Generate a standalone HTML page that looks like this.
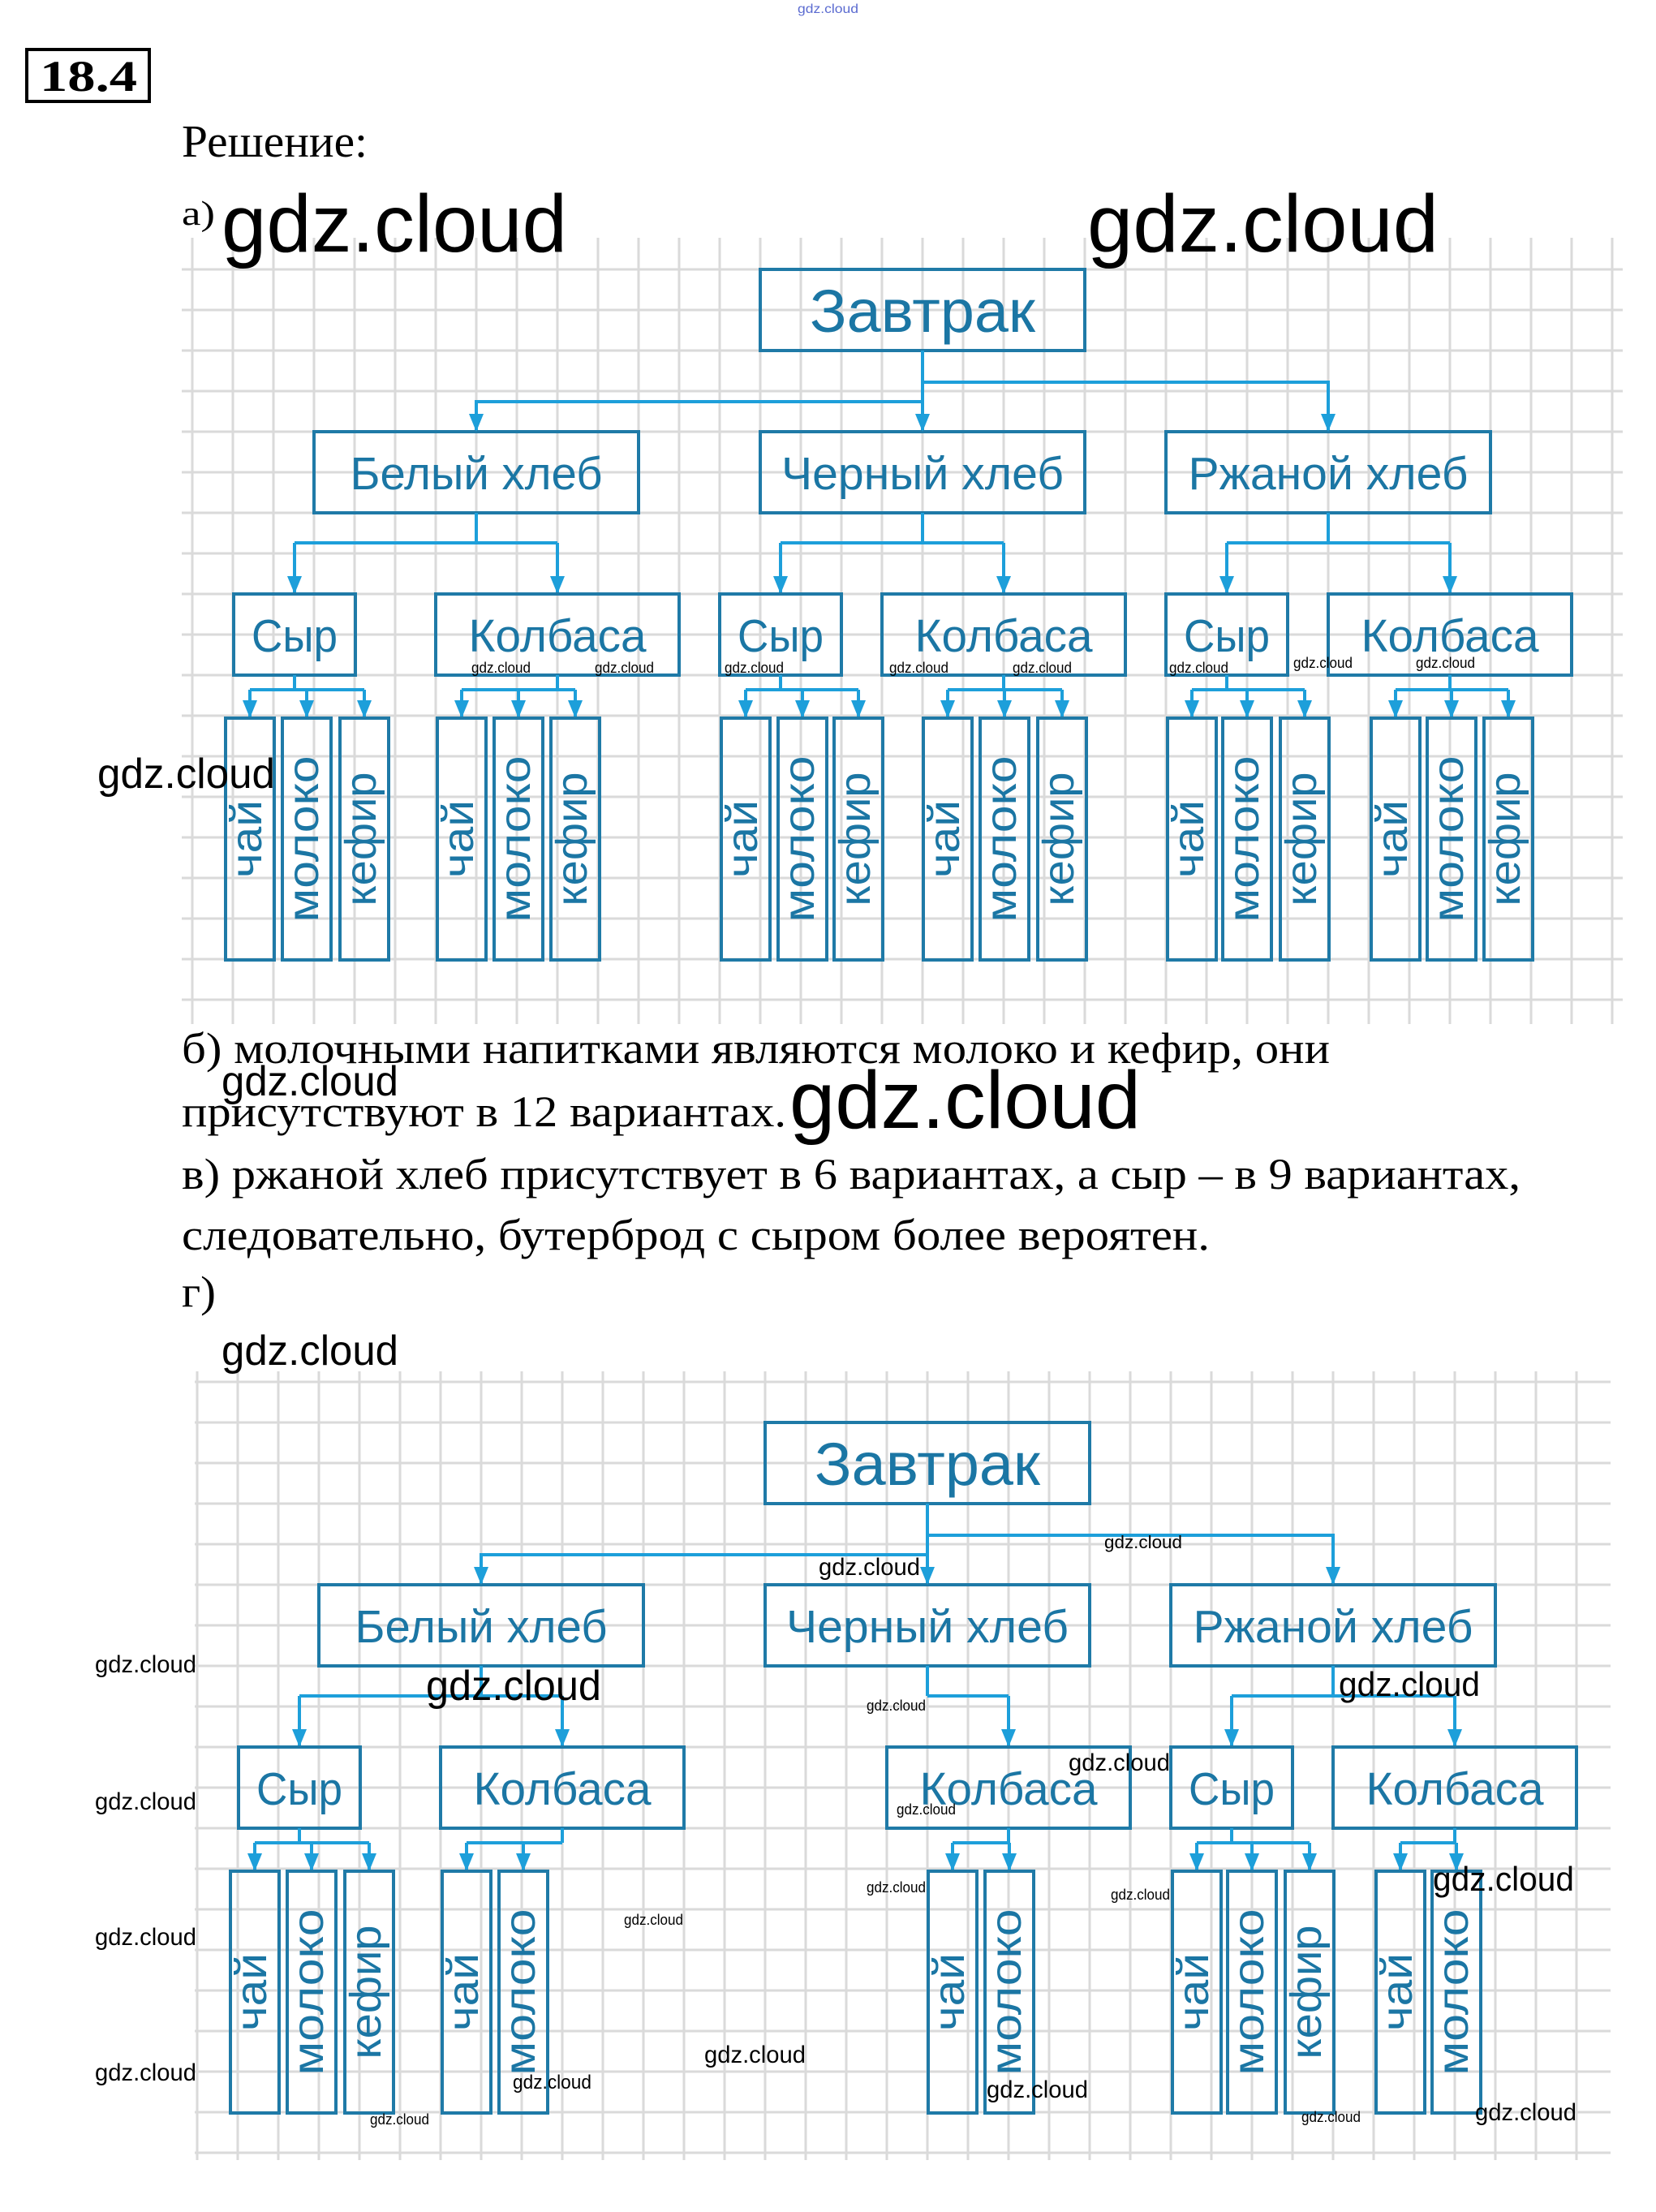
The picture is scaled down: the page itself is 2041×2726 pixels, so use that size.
<!DOCTYPE html>
<html><head><meta charset="utf-8"><style>
html,body{margin:0;padding:0;background:#fff;}
svg{display:block;}
.s{font-family:"Liberation Serif",serif;fill:#000;}
.w{font-family:"Liberation Sans",sans-serif;fill:#000;}
.b{font-family:"Liberation Sans",sans-serif;fill:#1b76a4;}
</style></head><body>
<svg id="sv" width="2041" height="2726" viewBox="0 0 2041 2726" xmlns="http://www.w3.org/2000/svg">
<g id="grid"></g>
<g id="shapes"></g>

<!-- header -->
<rect x="33" y="61" width="151" height="64" fill="none" stroke="#000" stroke-width="4"/>
<text class="s" x="49" y="112" font-size="54" font-weight="bold" textLength="120" lengthAdjust="spacingAndGlyphs">18.4</text>
<text class="s" x="224" y="193" font-size="56" textLength="229" lengthAdjust="spacingAndGlyphs">Решение:</text>
<text class="s" x="224" y="277" font-size="42" textLength="41" lengthAdjust="spacingAndGlyphs">а)</text>

<!-- part a labels -->
<g id="la">
<text class="b" x="1137" y="409" font-size="74" text-anchor="middle" textLength="278" lengthAdjust="spacingAndGlyphs">Завтрак</text>
<text class="b" x="587" y="603" font-size="57" text-anchor="middle" textLength="311" lengthAdjust="spacingAndGlyphs">Белый хлеб</text>
<text class="b" x="1137" y="603" font-size="57" text-anchor="middle" textLength="348" lengthAdjust="spacingAndGlyphs">Черный хлеб</text>
<text class="b" x="1637" y="603" font-size="57" text-anchor="middle" textLength="345" lengthAdjust="spacingAndGlyphs">Ржаной хлеб</text>
<text class="b" x="363" y="803" font-size="57" text-anchor="middle" textLength="106" lengthAdjust="spacingAndGlyphs">Сыр</text>
<text class="b" x="687" y="803" font-size="57" text-anchor="middle" textLength="219" lengthAdjust="spacingAndGlyphs">Колбаса</text>
<text class="b" x="962" y="803" font-size="57" text-anchor="middle" textLength="106" lengthAdjust="spacingAndGlyphs">Сыр</text>
<text class="b" x="1237" y="803" font-size="57" text-anchor="middle" textLength="219" lengthAdjust="spacingAndGlyphs">Колбаса</text>
<text class="b" x="1512" y="803" font-size="57" text-anchor="middle" textLength="106" lengthAdjust="spacingAndGlyphs">Сыр</text>
<text class="b" x="1787" y="803" font-size="57" text-anchor="middle" textLength="219" lengthAdjust="spacingAndGlyphs">Колбаса</text>

<text class="b" transform="translate(308,1034) rotate(-90)" y="14" font-size="54" text-anchor="middle" textLength="96" lengthAdjust="spacingAndGlyphs">чай</text>
<text class="b" transform="translate(378,1034) rotate(-90)" y="14" font-size="54" text-anchor="middle" textLength="205" lengthAdjust="spacingAndGlyphs">молоко</text>
<text class="b" transform="translate(449,1034) rotate(-90)" y="14" font-size="54" text-anchor="middle" textLength="165" lengthAdjust="spacingAndGlyphs">кефир</text>
<text class="b" transform="translate(569,1034) rotate(-90)" y="14" font-size="54" text-anchor="middle" textLength="96" lengthAdjust="spacingAndGlyphs">чай</text>
<text class="b" transform="translate(639,1034) rotate(-90)" y="14" font-size="54" text-anchor="middle" textLength="205" lengthAdjust="spacingAndGlyphs">молоко</text>
<text class="b" transform="translate(709,1034) rotate(-90)" y="14" font-size="54" text-anchor="middle" textLength="165" lengthAdjust="spacingAndGlyphs">кефир</text>
<text class="b" transform="translate(919,1034) rotate(-90)" y="14" font-size="54" text-anchor="middle" textLength="96" lengthAdjust="spacingAndGlyphs">чай</text>
<text class="b" transform="translate(989,1034) rotate(-90)" y="14" font-size="54" text-anchor="middle" textLength="205" lengthAdjust="spacingAndGlyphs">молоко</text>
<text class="b" transform="translate(1058,1034) rotate(-90)" y="14" font-size="54" text-anchor="middle" textLength="165" lengthAdjust="spacingAndGlyphs">кефир</text>
<text class="b" transform="translate(1168,1034) rotate(-90)" y="14" font-size="54" text-anchor="middle" textLength="96" lengthAdjust="spacingAndGlyphs">чай</text>
<text class="b" transform="translate(1238,1034) rotate(-90)" y="14" font-size="54" text-anchor="middle" textLength="205" lengthAdjust="spacingAndGlyphs">молоко</text>
<text class="b" transform="translate(1309,1034) rotate(-90)" y="14" font-size="54" text-anchor="middle" textLength="165" lengthAdjust="spacingAndGlyphs">кефир</text>
<text class="b" transform="translate(1469,1034) rotate(-90)" y="14" font-size="54" text-anchor="middle" textLength="96" lengthAdjust="spacingAndGlyphs">чай</text>
<text class="b" transform="translate(1537,1034) rotate(-90)" y="14" font-size="54" text-anchor="middle" textLength="205" lengthAdjust="spacingAndGlyphs">молоко</text>
<text class="b" transform="translate(1608,1034) rotate(-90)" y="14" font-size="54" text-anchor="middle" textLength="165" lengthAdjust="spacingAndGlyphs">кефир</text>
<text class="b" transform="translate(1720,1034) rotate(-90)" y="14" font-size="54" text-anchor="middle" textLength="96" lengthAdjust="spacingAndGlyphs">чай</text>
<text class="b" transform="translate(1789,1034) rotate(-90)" y="14" font-size="54" text-anchor="middle" textLength="205" lengthAdjust="spacingAndGlyphs">молоко</text>
<text class="b" transform="translate(1859,1034) rotate(-90)" y="14" font-size="54" text-anchor="middle" textLength="165" lengthAdjust="spacingAndGlyphs">кефир</text>
</g>

<!-- part g labels (offset +6,+1421) -->
<g transform="translate(6,1421)">
<text class="b" x="1137" y="409" font-size="74" text-anchor="middle" textLength="278" lengthAdjust="spacingAndGlyphs">Завтрак</text>
<text class="b" x="587" y="603" font-size="57" text-anchor="middle" textLength="311" lengthAdjust="spacingAndGlyphs">Белый хлеб</text>
<text class="b" x="1137" y="603" font-size="57" text-anchor="middle" textLength="348" lengthAdjust="spacingAndGlyphs">Черный хлеб</text>
<text class="b" x="1637" y="603" font-size="57" text-anchor="middle" textLength="345" lengthAdjust="spacingAndGlyphs">Ржаной хлеб</text>
<text class="b" x="363" y="803" font-size="57" text-anchor="middle" textLength="106" lengthAdjust="spacingAndGlyphs">Сыр</text>
<text class="b" x="687" y="803" font-size="57" text-anchor="middle" textLength="219" lengthAdjust="spacingAndGlyphs">Колбаса</text>
<text class="b" x="1237" y="803" font-size="57" text-anchor="middle" textLength="219" lengthAdjust="spacingAndGlyphs">Колбаса</text>
<text class="b" x="1512" y="803" font-size="57" text-anchor="middle" textLength="106" lengthAdjust="spacingAndGlyphs">Сыр</text>
<text class="b" x="1787" y="803" font-size="57" text-anchor="middle" textLength="219" lengthAdjust="spacingAndGlyphs">Колбаса</text>

<text class="b" transform="translate(308,1034) rotate(-90)" y="14" font-size="54" text-anchor="middle" textLength="96" lengthAdjust="spacingAndGlyphs">чай</text>
<text class="b" transform="translate(378,1034) rotate(-90)" y="14" font-size="54" text-anchor="middle" textLength="205" lengthAdjust="spacingAndGlyphs">молоко</text>
<text class="b" transform="translate(449,1034) rotate(-90)" y="14" font-size="54" text-anchor="middle" textLength="165" lengthAdjust="spacingAndGlyphs">кефир</text>
<text class="b" transform="translate(569,1034) rotate(-90)" y="14" font-size="54" text-anchor="middle" textLength="96" lengthAdjust="spacingAndGlyphs">чай</text>
<text class="b" transform="translate(639,1034) rotate(-90)" y="14" font-size="54" text-anchor="middle" textLength="205" lengthAdjust="spacingAndGlyphs">молоко</text>
<text class="b" transform="translate(1168,1034) rotate(-90)" y="14" font-size="54" text-anchor="middle" textLength="96" lengthAdjust="spacingAndGlyphs">чай</text>
<text class="b" transform="translate(1238,1034) rotate(-90)" y="14" font-size="54" text-anchor="middle" textLength="205" lengthAdjust="spacingAndGlyphs">молоко</text>
<text class="b" transform="translate(1469,1034) rotate(-90)" y="14" font-size="54" text-anchor="middle" textLength="96" lengthAdjust="spacingAndGlyphs">чай</text>
<text class="b" transform="translate(1537,1034) rotate(-90)" y="14" font-size="54" text-anchor="middle" textLength="205" lengthAdjust="spacingAndGlyphs">молоко</text>
<text class="b" transform="translate(1608,1034) rotate(-90)" y="14" font-size="54" text-anchor="middle" textLength="165" lengthAdjust="spacingAndGlyphs">кефир</text>
<text class="b" transform="translate(1720,1034) rotate(-90)" y="14" font-size="54" text-anchor="middle" textLength="96" lengthAdjust="spacingAndGlyphs">чай</text>
<text class="b" transform="translate(1789,1034) rotate(-90)" y="14" font-size="54" text-anchor="middle" textLength="205" lengthAdjust="spacingAndGlyphs">молоко</text>
</g>

<!-- body text -->
<text class="s" x="224" y="1310" font-size="54" textLength="1415" lengthAdjust="spacingAndGlyphs">б) молочными напитками являются молоко и кефир, они</text>
<text class="s" x="224" y="1388" font-size="54" textLength="745" lengthAdjust="spacingAndGlyphs">присутствуют в 12 вариантах.</text>
<text class="s" x="224" y="1465" font-size="54" textLength="1650" lengthAdjust="spacingAndGlyphs">в) ржаной хлеб присутствует в 6 вариантах, а сыр – в 9 вариантах,</text>
<text class="s" x="224" y="1540" font-size="54" textLength="1267" lengthAdjust="spacingAndGlyphs">следовательно, бутерброд с сыром более вероятен.</text>
<text class="s" x="224" y="1610" font-size="54" textLength="42" lengthAdjust="spacingAndGlyphs">г)</text>

<!-- watermarks -->
<text x="983" y="16" font-size="16" fill="#5b6bd0" font-family="Liberation Sans,sans-serif" textLength="75" lengthAdjust="spacingAndGlyphs">gdz.cloud</text>
<text class="w" x="273" y="310" font-size="100" textLength="426" lengthAdjust="spacingAndGlyphs">gdz.cloud</text>
<text class="w" x="1340" y="310" font-size="100" textLength="433" lengthAdjust="spacingAndGlyphs">gdz.cloud</text>
<text class="w" x="120" y="971" font-size="52" textLength="219" lengthAdjust="spacingAndGlyphs">gdz.cloud</text>
<g class="w" font-size="18">
<text x="581" y="829" textLength="73" lengthAdjust="spacingAndGlyphs">gdz.cloud</text>
<text x="733" y="829" textLength="73" lengthAdjust="spacingAndGlyphs">gdz.cloud</text>
<text x="893" y="829" textLength="73" lengthAdjust="spacingAndGlyphs">gdz.cloud</text>
<text x="1096" y="829" textLength="73" lengthAdjust="spacingAndGlyphs">gdz.cloud</text>
<text x="1248" y="829" textLength="73" lengthAdjust="spacingAndGlyphs">gdz.cloud</text>
<text x="1441" y="829" textLength="73" lengthAdjust="spacingAndGlyphs">gdz.cloud</text>
<text x="1594" y="823" textLength="73" lengthAdjust="spacingAndGlyphs">gdz.cloud</text>
<text x="1745" y="823" textLength="73" lengthAdjust="spacingAndGlyphs">gdz.cloud</text>
</g>
<text class="w" x="273" y="1350" font-size="52" textLength="218" lengthAdjust="spacingAndGlyphs">gdz.cloud</text>
<text class="w" x="973" y="1390" font-size="100" textLength="433" lengthAdjust="spacingAndGlyphs">gdz.cloud</text>
<text class="w" x="273" y="1682" font-size="52" textLength="218" lengthAdjust="spacingAndGlyphs">gdz.cloud</text>

<g class="w">
<text x="117" y="2061" font-size="30" textLength="125" lengthAdjust="spacingAndGlyphs">gdz.cloud</text>
<text x="117" y="2230" font-size="30" textLength="125" lengthAdjust="spacingAndGlyphs">gdz.cloud</text>
<text x="117" y="2397" font-size="30" textLength="125" lengthAdjust="spacingAndGlyphs">gdz.cloud</text>
<text x="117" y="2564" font-size="30" textLength="125" lengthAdjust="spacingAndGlyphs">gdz.cloud</text>
<text x="1009" y="1941" font-size="30" textLength="125" lengthAdjust="spacingAndGlyphs">gdz.cloud</text>
<text x="1361" y="1908" font-size="22" textLength="96" lengthAdjust="spacingAndGlyphs">gdz.cloud</text>
<text x="525" y="2095" font-size="52" textLength="216" lengthAdjust="spacingAndGlyphs">gdz.cloud</text>
<text x="1068" y="2108" font-size="18" textLength="73" lengthAdjust="spacingAndGlyphs">gdz.cloud</text>
<text x="1317" y="2182" font-size="30" textLength="125" lengthAdjust="spacingAndGlyphs">gdz.cloud</text>
<text x="1105" y="2236" font-size="18" textLength="73" lengthAdjust="spacingAndGlyphs">gdz.cloud</text>
<text x="1650" y="2090" font-size="42" textLength="174" lengthAdjust="spacingAndGlyphs">gdz.cloud</text>
<text x="1766" y="2330" font-size="42" textLength="174" lengthAdjust="spacingAndGlyphs">gdz.cloud</text>
<text x="1068" y="2332" font-size="18" textLength="73" lengthAdjust="spacingAndGlyphs">gdz.cloud</text>
<text x="1369" y="2341" font-size="18" textLength="73" lengthAdjust="spacingAndGlyphs">gdz.cloud</text>
<text x="769" y="2372" font-size="18" textLength="73" lengthAdjust="spacingAndGlyphs">gdz.cloud</text>
<text x="868" y="2542" font-size="30" textLength="125" lengthAdjust="spacingAndGlyphs">gdz.cloud</text>
<text x="632" y="2574" font-size="24" textLength="97" lengthAdjust="spacingAndGlyphs">gdz.cloud</text>
<text x="1216" y="2585" font-size="30" textLength="125" lengthAdjust="spacingAndGlyphs">gdz.cloud</text>
<text x="456" y="2618" font-size="18" textLength="73" lengthAdjust="spacingAndGlyphs">gdz.cloud</text>
<text x="1604" y="2615" font-size="18" textLength="73" lengthAdjust="spacingAndGlyphs">gdz.cloud</text>
<text x="1818" y="2613" font-size="30" textLength="125" lengthAdjust="spacingAndGlyphs">gdz.cloud</text>
</g>
</svg>
<script>
(function(){
var NS="http://www.w3.org/2000/svg";
var grid=document.getElementById('grid'),sh=document.getElementById('shapes');
function el(p,t,a){var e=document.createElementNS(NS,t);for(var k in a)e.setAttribute(k,a[k]);p.appendChild(e);return e;}
var GC="#dadada";
function drawGrid(x0,x1,y0,y1,vx0,vtop,vbot,hy0,hy1){
 for(var x=vx0;x<=x1;x+=50) el(grid,'line',{x1:x,y1:vtop,x2:x,y2:vbot,stroke:GC,'stroke-width':3});
 for(var y=hy0;y<=hy1;y+=50) el(grid,'line',{x1:x0,y1:y,x2:x1,y2:y,stroke:GC,'stroke-width':3});
}
drawGrid(224,2000,0,0,237,293,1262,332,1232);
drawGrid(240,1985,0,0,243,1690,2662,1703,2653);
var BC="#1f7aa7",LC="#1d9fda";
function box(dx,dy,x0,y0,x1,y1){el(sh,'rect',{x:x0+dx,y:y0+dy,width:x1-x0,height:y1-y0,fill:'none',stroke:BC,'stroke-width':4});}
function line(dx,dy,pts){var s=pts.map(function(p){return (p[0]+dx)+','+(p[1]+dy);}).join(' ');el(sh,'polyline',{points:s,fill:'none',stroke:LC,'stroke-width':4});}
function arrow(dx,dy,x,y){x+=dx;y+=dy;el(sh,'polygon',{points:(x-9)+','+(y-22)+' '+(x+9)+','+(y-22)+' '+x+','+y,fill:LC});}
function tree(dx,dy,g){
 box(dx,dy,937,332,1337,432);
 box(dx,dy,387,532,787,632);box(dx,dy,937,532,1337,632);box(dx,dy,1437,532,1837,632);
 line(dx,dy,[[1137,432],[1137,530]]);arrow(dx,dy,1137,532);
 line(dx,dy,[[1137,471],[1637,471],[1637,530]]);arrow(dx,dy,1637,532);
 line(dx,dy,[[1137,495],[587,495],[587,530]]);arrow(dx,dy,587,532);
 var groups=g?[
  {p:587,kids:[{x0:288,x1:438,l:[278,348,419]},{x0:537,x1:837,l:[539,609]}]},
  {p:1137,kids:[{x0:1087,x1:1387,l:[1138,1208]}]},
  {p:1637,kids:[{x0:1437,x1:1587,l:[1439,1507,1578]},{x0:1637,x1:1937,l:[1690,1759]}]}
 ]:[
  {p:587,kids:[{x0:288,x1:438,l:[278,348,419]},{x0:537,x1:837,l:[539,609,679]}]},
  {p:1137,kids:[{x0:887,x1:1037,l:[889,959,1028]},{x0:1087,x1:1387,l:[1138,1208,1279]}]},
  {p:1637,kids:[{x0:1437,x1:1587,l:[1439,1507,1578]},{x0:1637,x1:1937,l:[1690,1759,1829]}]}
 ];
 groups.forEach(function(gr){
  var cs=gr.kids.map(function(k){return (k.x0+k.x1)/2;});
  line(dx,dy,[[gr.p,632],[gr.p,669]]);
  var mn=Math.min.apply(null,cs.concat([gr.p])),mx=Math.max.apply(null,cs.concat([gr.p]));
  line(dx,dy,[[mn,669],[mx,669]]);
  gr.kids.forEach(function(k){
   var c=(k.x0+k.x1)/2;
   line(dx,dy,[[c,669],[c,730]]);arrow(dx,dy,c,732);
   box(dx,dy,k.x0,732,k.x1,832);
   var lc=k.l.map(function(x){return x+30;});
   line(dx,dy,[[c,832],[c,850]]);
   line(dx,dy,[[Math.min(lc[0],c),850],[Math.max(lc[lc.length-1],c),850]]);
   k.l.forEach(function(x){line(dx,dy,[[x+30,850],[x+30,883]]);arrow(dx,dy,x+30,885);box(dx,dy,x,885,x+60,1183);});
  });
 });
}
tree(0,0,false);
tree(6,1421,true);
})();
</script>
</body></html>
